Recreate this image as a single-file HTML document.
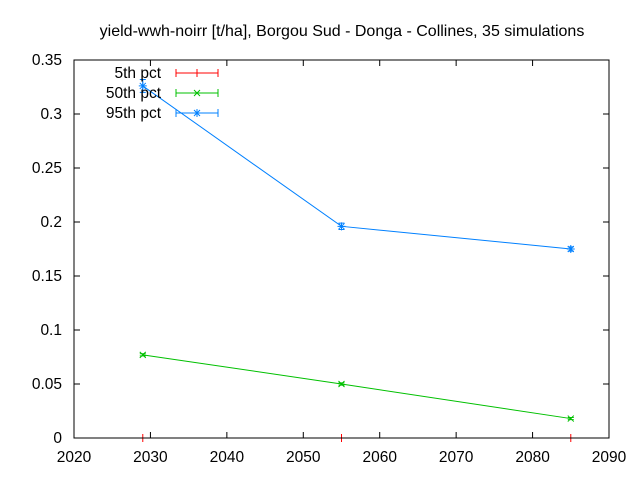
<!DOCTYPE html>
<html><head><meta charset="utf-8"><style>
body{margin:0;background:#fff}
svg{display:block;font-family:"Liberation Sans",sans-serif;font-size:15.5px}
</style></head><body>
<svg id="c" width="640" height="480">
<text x="342" y="36" text-anchor="middle" style="font-size:16px">yield-wwh-noirr [t/ha], Borgou Sud - Donga - Collines, 35 simulations</text>
<g id="series"></g>
<rect x="74" y="60" width="535" height="378" fill="none" stroke="#000" stroke-width="1"/>
<g id="axes"></g>
<g id="legend"></g>
</svg>
<script>
const years=[2029,2055,2085];
const p5=[0,0,0];
const p50=[0.077,0.050,0.018];
const p50lo=[0.076,0.049,0.017];
const p50hi=[0.078,0.051,0.019];
const p95=[0.326,0.196,0.175];
const p95lo=[0.320,0.193,0.173];
const p95hi=[0.332,0.199,0.177];
const xTicks=[2020,2030,2040,2050,2060,2070,2080,2090];
const yTicks=[0,0.05,0.1,0.15,0.2,0.25,0.3,0.35];
const yLabels=["0","0.05","0.1","0.15","0.2","0.25","0.3","0.35"];
const L=74,R=609,T=60,B=438;
const X=v=>L+(v-2020)/70*(R-L);
const Y=v=>B-v/0.35*(B-T);
const NS="http://www.w3.org/2000/svg";
function mk(tag,attrs,parent){const e=document.createElementNS(NS,tag);for(const k in attrs)e.setAttribute(k,attrs[k]);parent.appendChild(e);return e;}
const ax=document.getElementById('axes');
xTicks.forEach((t,i)=>{
 const x=X(t);
 const a=mk('line',{x1:x,y1:B,x2:x,y2:B-6,stroke:'#000'},ax);
 
 
 const b=mk('line',{x1:x,y1:T,x2:x,y2:T+6,stroke:'#000'},ax);
 
 
 const tx=mk('text',{x:x,y:B+24,'text-anchor':'middle'},ax);tx.textContent=t;
 
 
});
yTicks.forEach((t,i)=>{
 const y=Y(t);
 const a=mk('line',{x1:L,y1:y,x2:L+6,y2:y,stroke:'#000'},ax);
 
 
 const b=mk('line',{x1:R,y1:y,x2:R-6,y2:y,stroke:'#000'},ax);
 
 
 const tx=mk('text',{x:L-12,y:y+5,'text-anchor':'end'},ax);tx.textContent=yLabels[i];
 
 
});
const sg=document.getElementById('series');
function marker(kind,x,y,c,g){
 const d=[];
 if(kind!=='x'){d.push(`M${x-4},${y}H${x+4}M${x},${y-4}V${y+4}`);}
 if(kind!=='plus'){d.push(`M${x-3},${y-3}L${x+3},${y+3}M${x-3},${y+3}L${x+3},${y-3}`);}
 const p=mk('path',{d:d.join(''),stroke:c,fill:'none'},g);
 
 
}
function series(name,vals,lo,hi,c,kind){
 const g=mk('g',{},sg);
 
 
 const pl=mk('polyline',{points:years.map((yr,i)=>X(yr)+','+Y(vals[i])).join(' '),fill:'none',stroke:c},g);
 
 
 years.forEach((yr,i)=>{
  const x=X(yr);
  if(lo){const e=mk('path',{d:`M${x},${Y(lo[i])}V${Y(hi[i])}M${x-3},${Y(lo[i])}H${x+3}M${x-3},${Y(hi[i])}H${x+3}`,stroke:c,fill:'none'},g);
   
   }
  marker(kind,x,Y(vals[i]),c,g);
 });
}
series('series-5th',p5,null,null,'#ff0000','plus');
series('series-50th',p50,p50lo,p50hi,'#00c000','x');
series('series-95th',p95,p95lo,p95hi,'#0080ff','star');
const lg=document.getElementById('legend');
[['5th pct','#ff0000','plus',73],['50th pct','#00c000','x',93],['95th pct','#0080ff','star',113]].forEach(([lab,c,k,y])=>{
 const g=mk('g',{},lg);
 
 
 const t=mk('text',{x:161,y:y+5,'text-anchor':'end'},g);t.textContent=lab;
 mk('path',{d:`M176,${y}H218M176,${y-4}V${y+4}M218,${y-4}V${y+4}`,stroke:c,fill:'none'},g);
 marker(k,197,y,c,g);
});
</script>
</body></html>
